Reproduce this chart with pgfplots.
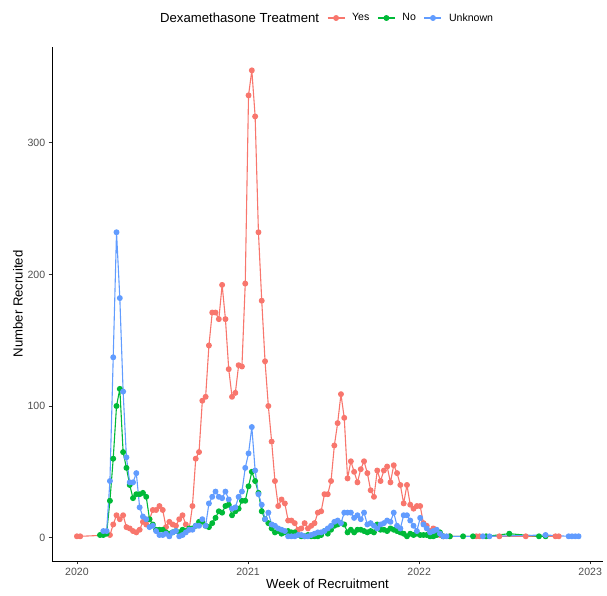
\documentclass[border=0pt]{standalone}
\usepackage{pgfplots}
\pgfplotsset{compat=1.18}
\usepackage{fontspec}
\setmainfont{Liberation Sans}
\definecolor{cyes}{HTML}{F8766D}
\definecolor{cno}{HTML}{00BA38}
\definecolor{cunk}{HTML}{619CFF}
\definecolor{gray30}{HTML}{4D4D4D}
\definecolor{gray20}{HTML}{333333}
% x = week index k (k=-7 is the first week of 2020)
\begin{document}
\begin{tikzpicture}
\begin{axis}[
    scale only axis, width=551bp, height=514bp,
    xmin=-14.55, xmax=152.4, ymin=-17.75, ymax=372.75,
    axis x line*=bottom, axis y line*=left,
    axis line style={-, black, line width=0.8bp},
    tick align=outside, major tick length=3.3bp,
    tick style={gray20, line width=0.8bp},
    xtick={-7,44.85,96.7,148.5}, xticklabels={2020,2021,2022,2023},
    ytick={0,100,200,300},
    ticklabel style={font=\fontsize{10.6}{12}\selectfont, text=gray30},
    /pgf/number format/assume math mode=true,
    xlabel={Week of Recruitment}, ylabel={Number Recruited},
    label style={font=\fontsize{13.2}{15}\selectfont},
    xlabel style={at={(axis description cs:0.5,-0.0447)}, anchor=center},
    ylabel style={at={(axis description cs:-0.0617,0.5)}, anchor=center},
    every axis plot/.append style={line width=1.1bp, line join=round, mark=*, mark size=2.4bp},
    legend style={draw=none, fill=none, legend columns=-1, inner sep=0pt,
        at={(axis description cs:0.1833,1.0564)}, anchor=west,
        font=\fontsize{10.6}{12}\selectfont,
        /tikz/every odd column/.append style={column sep=5bp},
        /tikz/every even column/.append style={column sep=6bp}},
    legend image code/.code={\draw[mark repeat=2,mark phase=2,line width=1.1bp,#1] plot coordinates {(0bp,0bp) (8.5bp,0bp) (17bp,0bp)};},
]
\addlegendimage{empty legend}
\addlegendentry{\fontsize{13.2}{15}\selectfont Dexamethasone Treatment}

\addplot[cyes, mark options={fill=cyes, draw=cyes}] coordinates {
(-7,1) (-6,1)
(3,2) (4,10) (5,17) (6,14) (7,17) (8,8) (9,7) (10,5) (11,4) (12,6) (13,12) (14,10)
(15,14) (16,21) (17,21) (18,24) (19,21) (20,8) (21,12) (22,10) (23,9) (24,14) (25,17)
(26,10) (27,6) (28,24) (29,60) (30,65) (31,104) (32,107) (33,146) (34,171) (35,171)
(36,166) (37,192) (38,166) (39,128) (40,107) (41,110) (42,131) (43,130) (44,193)
(45,336) (46,355) (47,320) (48,232) (49,180) (50,134) (51,100) (52,73) (53,43) (54,24)
(55,29) (56,26) (57,13) (58,13) (59,11) (60,6) (61,7) (62,11) (63,7) (64,9) (65,11)
(66,19) (67,20) (68,33) (69,33) (70,43) (71,70) (72,87) (73,109) (74,91) (75,45)
(76,58) (77,50) (78,42) (79,52) (80,58) (81,49) (82,36) (83,31) (84,51) (85,43)
(86,51) (87,54) (88,42) (89,55) (90,49) (91,40) (92,26) (93,40) (94,25) (95,22)
(96,24) (97,24) (98,11) (99,9) (100,5) (101,7) (102,5) (103,2) (104,1) (106,1)
(114,1) (115,1) (121,1) (129,1) (138,1) (139,1)
};
\addlegendentry{Yes}

\addplot[cno, mark options={fill=cno, draw=cno}] coordinates {
(0,2) (1,2) (2,3) (3,28) (4,60) (5,100) (6,113) (7,65) (8,53) (9,40) (10,30) (11,33)
(12,33) (13,34) (14,31) (15,14) (16,10) (17,6) (18,6) (19,6) (20,4) (21,3) (22,4)
(23,5) (24,4) (25,6) (26,5) (27,7) (28,7) (29,9) (30,12) (31,12) (32,9) (33,8) (34,11)
(35,15) (36,20) (37,19) (38,24) (39,25) (40,17) (41,20) (42,22) (43,28) (44,28)
(45,39) (46,50) (47,43) (48,34) (49,20) (50,14) (51,11) (52,7) (53,4) (54,5) (55,3)
(56,4) (57,5) (58,4) (59,4) (60,2) (61,1) (62,1) (63,2) (64,1) (65,1) (66,1) (67,2)
(68,5) (69,3) (70,6) (71,9) (72,10) (73,11) (74,10) (75,4) (76,6) (77,4) (78,6) (79,6)
(80,5) (81,4) (82,5) (83,4) (84,10) (85,6) (86,6) (87,5) (88,7) (89,6) (90,5) (91,4)
(92,3) (93,1) (94,3) (95,2) (96,3) (97,2) (98,2) (99,2) (100,1) (101,1) (102,2)
(103,4) (104,1) (106,1) (110,1) (113,1) (117,1) (124,3) (133,1) (135,1)
};
\addlegendentry{No}

\addplot[cunk, mark options={fill=cunk, draw=cunk}] coordinates {
(1,5) (2,5) (3,43) (4,137) (5,232) (6,182) (7,111) (8,61) (9,42) (10,42) (11,49)
(12,23) (13,16) (14,14) (15,8) (16,9) (17,5) (18,2) (19,2) (20,3) (21,1) (22,4) (23,5)
(24,1) (25,2) (26,4) (27,6) (28,6) (29,9) (30,9) (31,14) (32,9) (33,26) (34,31)
(35,35) (36,31) (37,30) (38,35) (39,29) (40,22) (41,23) (42,31) (43,35) (44,53)
(45,64) (46,84) (47,51) (48,33) (49,25) (50,14) (51,19) (52,10) (53,9) (54,7) (55,6)
(56,5) (57,1) (58,1) (59,1) (60,2) (61,2) (62,1) (63,1) (64,2) (65,3) (66,4) (67,4)
(68,5) (69,7) (70,9) (71,12) (72,13) (73,11) (74,19) (75,19) (76,19) (77,15) (78,17)
(79,14) (80,19) (81,10) (82,11) (83,9) (84,7) (85,10) (86,11) (87,13) (88,12) (89,19)
(90,9) (91,7) (92,17) (93,17) (94,13) (95,9) (96,5) (97,15) (98,10) (99,7) (100,4)
(101,5) (102,6) (103,3) (104,1) (105,1) (116,1) (118,1) (135,2) (142,1) (143,1)
(144,1) (145,1)
};
\addlegendentry{Unknown}
\end{axis}
\pgfresetboundingbox
\path[use as bounding box] (-52bp,-35bp) rectangle (555bp,561bp);
\end{tikzpicture}
\end{document}
